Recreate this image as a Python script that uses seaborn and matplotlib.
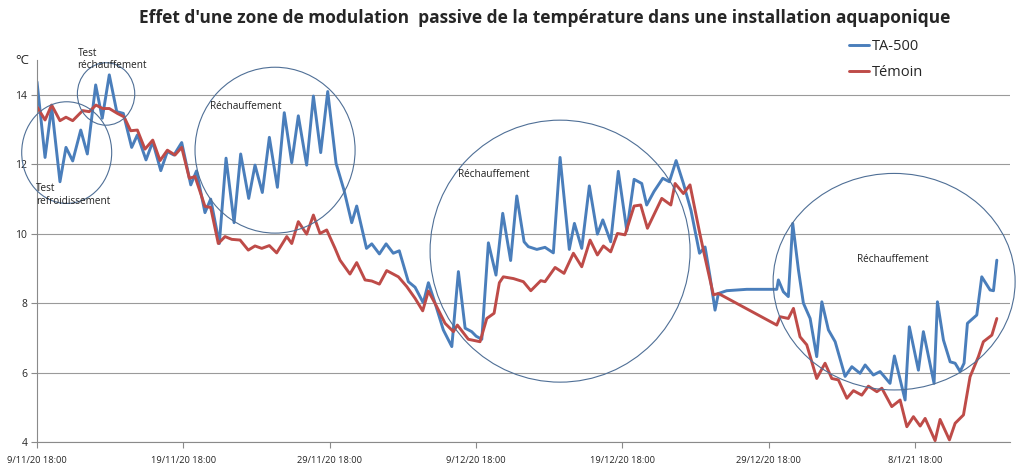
import numpy as np
import pandas as pd
import matplotlib
matplotlib.use("Agg")
import matplotlib.pyplot as plt
import matplotlib.dates as mdates
from matplotlib.patches import Ellipse
import seaborn as sns

# ---------------- data (days since 9/11/20 18:00, °C) ----------------
start = pd.Timestamp("2020-11-09 18:00")

ta500_days = [0.0, 0.55, 1.0, 1.57, 1.98, 2.44, 2.99, 3.44, 4.01, 4.46, 4.94, 5.45, 5.9,
              6.47, 6.86, 7.45, 7.91, 8.46, 8.91, 9.36, 9.89, 10.51, 10.9, 11.48, 11.87,
              12.46, 12.92, 13.47, 13.92, 14.47, 14.9, 15.4, 15.88, 16.43, 16.9, 17.41,
              17.86, 18.43, 18.89, 19.39, 19.87, 20.44, 20.98, 21.51, 21.85, 22.52, 22.88,
              23.4, 23.86, 24.35, 24.76, 25.38, 25.84, 26.4, 26.75, 27.2, 27.77, 28.35,
              28.8, 29.26, 29.71, 30.01, 30.4, 30.85, 31.37, 31.83, 32.37, 32.79, 33.29,
              33.58, 34.16, 34.72, 35.29, 35.75, 36.38, 36.73, 37.23, 37.75, 38.3, 38.67,
              39.21, 39.73, 40.31, 40.81, 41.33, 41.67, 42.17, 42.77, 43.22, 43.68, 44.18,
              44.7, 45.28, 45.66, 46.0, 46.34, 46.57, 47.14, 48.51, 50.56, 50.67, 51.01,
              51.35, 51.65, 52.04, 52.38, 52.84, 53.29, 53.64, 54.09, 54.55, 55.23, 55.69,
              56.25, 56.6, 57.16, 57.62, 58.3, 58.6, 59.33, 59.62, 60.24, 60.58, 61.31,
              61.54, 61.95, 62.41, 62.75, 63.09, 63.36, 63.59, 64.23, 64.57, 65.14, 65.37,
              65.6]
ta500_temp = [14.38, 12.2, 13.66, 11.5, 12.49, 12.1, 12.99, 12.3, 14.29, 13.33, 14.58, 13.52,
              13.47, 12.49, 12.85, 12.13, 12.65, 11.82, 12.37, 12.27, 12.63, 11.41, 11.81,
              10.61, 11.0, 9.72, 12.18, 10.32, 12.3, 11.02, 11.98, 11.19, 12.78, 11.34, 13.49,
              12.05, 13.4, 11.98, 13.97, 12.34, 14.1, 12.03, 11.26, 10.32, 10.8, 9.58, 9.71,
              9.42, 9.71, 9.44, 9.51, 8.62, 8.46, 8.01, 8.59, 8.01, 7.23, 6.75, 8.91, 7.28,
              7.18, 7.05, 6.96, 9.74, 8.81, 10.59, 9.23, 11.09, 9.77, 9.63, 9.55, 9.61, 9.45,
              12.2, 9.55, 10.3, 9.58, 11.38, 9.99, 10.4, 9.77, 11.8, 10.09, 11.57, 11.45,
              10.83, 11.22, 11.6, 11.5, 12.11, 11.45, 10.67, 9.44, 9.62, 8.76, 7.8, 8.28,
              8.36, 8.4, 8.4, 8.67, 8.33, 8.19, 10.3, 8.96, 8.0, 7.56, 6.46, 8.04, 7.23, 6.89,
              5.89, 6.17, 5.98, 6.22, 5.93, 6.03, 5.69, 6.48, 5.21, 7.32, 6.07, 7.18, 5.69,
              8.04, 6.94, 6.31, 6.27, 6.03, 6.27, 7.42, 7.66, 8.76, 8.38, 8.36, 9.24]

temoin_days = [0.0, 0.55, 1.0, 1.57, 1.98, 2.44, 3.12, 3.57, 4.03, 4.49, 4.94, 5.49, 5.95,
               6.4, 6.86, 7.38, 7.91, 8.41, 8.91, 9.43, 9.89, 10.41, 10.8, 11.48, 11.87,
               12.39, 12.85, 13.31, 13.88, 14.44, 14.9, 15.36, 15.88, 16.38, 17.07, 17.41,
               17.86, 18.43, 18.89, 19.34, 19.8, 20.37, 20.71, 21.39, 21.85, 22.42, 22.88,
               23.4, 23.9, 24.7, 25.27, 25.84, 26.36, 26.75, 27.32, 27.89, 28.46, 28.73,
               29.48, 30.28, 30.74, 31.24, 31.6, 31.87, 32.56, 33.24, 33.75, 34.43, 34.72,
               35.41, 36.02, 36.66, 37.23, 37.8, 38.3, 38.71, 39.21, 39.67, 40.19, 40.81,
               41.26, 41.72, 42.7, 43.32, 43.61, 44.18, 44.63, 45.27, 45.59, 46.0, 46.23,
               46.57, 50.56, 50.79, 51.35, 51.7, 52.15, 52.61, 53.29, 53.86, 54.32, 54.77,
               55.35, 55.8, 56.37, 56.82, 57.4, 57.74, 58.42, 58.99, 59.45, 59.9, 60.36,
               60.7, 61.38, 61.72, 62.36, 62.75, 63.32, 63.77, 64.34, 64.68, 65.26, 65.6]
temoin_temp = [13.66, 13.28, 13.71, 13.26, 13.36, 13.26, 13.55, 13.52, 13.71, 13.61, 13.61,
               13.47, 13.37, 12.97, 12.99, 12.44, 12.7, 12.11, 12.41, 12.27, 12.49, 11.6,
               11.65, 10.79, 10.76, 9.72, 9.92, 9.84, 9.82, 9.53, 9.65, 9.58, 9.66, 9.45,
               9.92, 9.72, 10.35, 9.99, 10.54, 10.01, 10.11, 9.58, 9.24, 8.84, 9.17, 8.67,
               8.64, 8.55, 8.94, 8.76, 8.48, 8.14, 7.78, 8.35, 7.9, 7.42, 7.18, 7.37, 6.96,
               6.89, 7.56, 7.71, 8.59, 8.76, 8.71, 8.62, 8.36, 8.65, 8.62, 9.03, 8.86, 9.44,
               9.05, 9.82, 9.39, 9.65, 9.48, 10.01, 9.97, 10.8, 10.83, 10.16, 11.02, 10.83,
               11.45, 11.16, 11.41, 10.07, 9.44, 8.67, 8.24, 8.28, 7.37, 7.61, 7.56, 7.85,
               7.03, 6.8, 5.83, 6.27, 5.83, 5.79, 5.26, 5.48, 5.35, 5.61, 5.45, 5.55, 5.02,
               5.21, 4.44, 4.73, 4.46, 4.68, 4.04, 4.65, 4.06, 4.54, 4.78, 5.88, 6.46, 6.89,
               7.08, 7.56]

series_names = ["TA-500", "Témoin"]
colors = {"TA-500": "#4a7ebb", "Témoin": "#be4b48"}
y_ticks = [4, 6, 8, 10, 12, 14]
title = "Effet d'une zone de modulation  passive de la température dans une installation aquaponique"

# annotation regions: (centre day, centre °C, width days, height °C)
zones = [
    (2.03, 12.34, 6.15, 2.93),
    (4.72, 14.03, 3.92, 1.80),
    (16.27, 12.41, 10.94, 4.78),
    (35.75, 9.50, 17.77, 7.55),
    (58.58, 8.62, 16.54, 6.24),
]
zone_labels = [
    ("Test\nrefroidissement", -0.07, 11.45),
    ("Test\nréchauffement", 2.76, 15.35),
    ("Réchauffement", 11.83, 13.83),
    ("Réchauffement", 28.77, 11.88),
    ("Réchauffement", 56.05, 9.43),
]

# ---------------- build frame ----------------
df = pd.concat([
    pd.DataFrame({"date": start + pd.to_timedelta(ta500_days, unit="D"),
                  "temp": ta500_temp, "serie": "TA-500"}),
    pd.DataFrame({"date": start + pd.to_timedelta(temoin_days, unit="D"),
                  "temp": temoin_temp, "serie": "Témoin"}),
], ignore_index=True)

sns.set_style("white")
plt.rcParams["font.family"] = ["Open Sans", "DejaVu Sans"]

fig = plt.figure(figsize=(10.24, 4.72), dpi=100)
ax = fig.add_axes([37 / 1024, 1 - 442 / 472, (1010 - 37) / 1024, (442 - 60.3) / 472])

sns.lineplot(data=df, x="date", y="temp", hue="serie", hue_order=series_names,
             palette=colors, estimator=None, sort=False, linewidth=2.1, ax=ax,
             legend=True)
for ln in ax.lines:
    ln.set_solid_joinstyle("round")
    ln.set_solid_capstyle("round")

ax.set_ylim(4, 15)
ax.set_xlim(start, start + pd.Timedelta(days=66.5))
ax.set_yticks(y_ticks)
ax.set_yticklabels([str(v) for v in y_ticks])
ax.yaxis.grid(True, color="#9a9a9a", linewidth=0.8)
ax.xaxis.grid(False)
ax.set_axisbelow(True)

xt = [start + pd.Timedelta(days=10 * k) for k in range(7)]
ax.set_xticks(xt)
ax.set_xticklabels([f"{d.day}/{d.month}/{d.strftime('%y')} {d.strftime('%H:%M')}" for d in xt])

for s in ["top", "right"]:
    ax.spines[s].set_visible(False)
for s in ["left", "bottom"]:
    ax.spines[s].set_color("#8a8a8a")
    ax.spines[s].set_linewidth(0.8)

ax.tick_params(axis="x", direction="out", length=4, width=0.8, color="#8a8a8a",
               labelsize=6.7, pad=6, bottom=True)
ax.tick_params(axis="y", direction="out", length=4, width=0.8, color="#8a8a8a",
               labelsize=7.5, pad=3, left=True)
ax.set_xlabel("")
ax.set_ylabel("")

# zones
for (cx, cy, w, h) in zones:
    e = Ellipse((mdates.date2num(start + pd.Timedelta(days=cx)), cy),
                width=w, height=h, fill=False, edgecolor="#4f6f96",
                linewidth=0.8, clip_on=False, zorder=3)
    ax.add_patch(e)
for (txt, dx, dy) in zone_labels:
    ax.text(start + pd.Timedelta(days=dx), dy, txt, fontsize=7.2, color="#222222",
            ha="left", va="top", linespacing=1.15, clip_on=False)

# unit
fig.text(15 / 1024, 1 - 60 / 472, "°C", fontsize=9.5, color="#222222", ha="left", va="center")

# title
fig.text(545 / 1024, 1 - 18 / 472, title, fontsize=12.5, fontweight="bold",
         ha="center", va="center", family=["Open Sans", "DejaVu Sans"])

# legend
handles, labels = ax.get_legend_handles_labels()
ax.legend(handles, labels, loc="upper left", bbox_to_anchor=(843 / 1024, 1 - 33 / 472),
          bbox_transform=fig.transFigure, frameon=False, fontsize=10.5,
          handlelength=1.4, handletextpad=0.2, labelspacing=0.8, borderaxespad=0)

fig.savefig("out.png", dpi=100)
